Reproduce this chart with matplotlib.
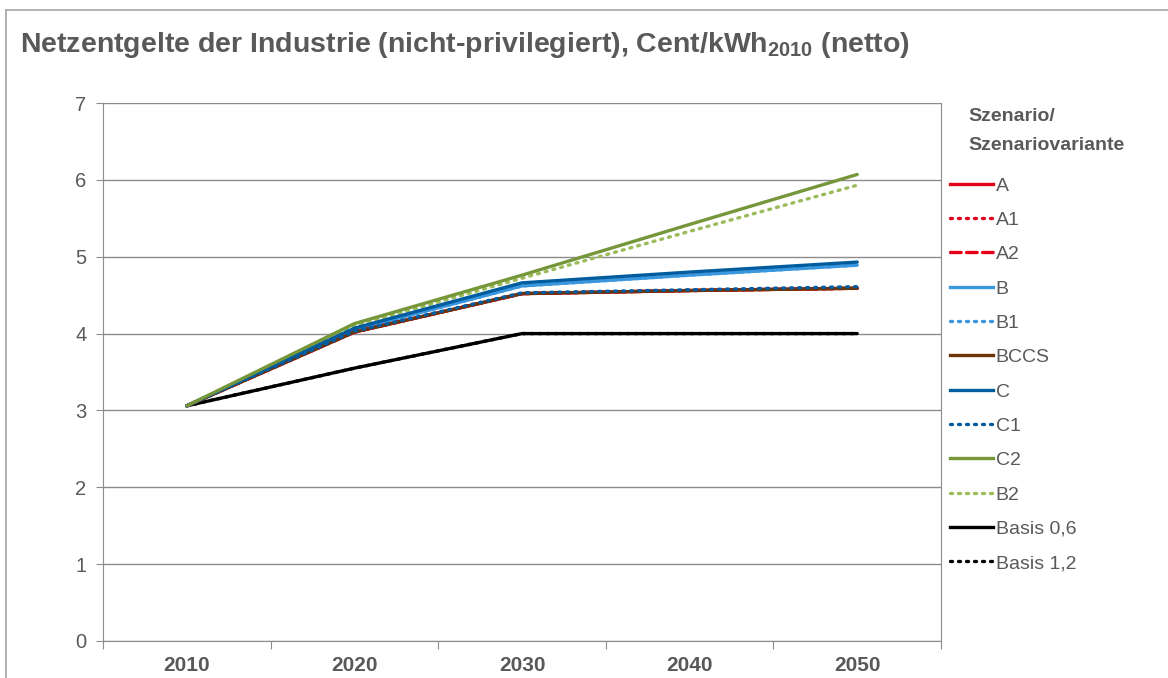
import matplotlib.pyplot as plt
from matplotlib.lines import Line2D

plt.rcParams['font.family'] = ['Liberation Sans', 'DejaVu Sans']
plt.rcParams['mathtext.fontset'] = 'custom'
plt.rcParams['mathtext.rm'] = 'Liberation Sans'
plt.rcParams['mathtext.bf'] = 'Liberation Sans:bold'

# data
years = ['2010', '2020', '2030', '2040', '2050']
series_names = ['A', 'A1', 'A2', 'B', 'B1', 'BCCS', 'C', 'C1', 'C2', 'B2', 'Basis 0,6', 'Basis 1,2']
val_A = [3.06, 4.02, 4.52, 4.56, 4.59]
val_A1 = [3.06, 4.02, 4.52, 4.56, 4.59]
val_A2 = [3.06, 4.02, 4.52, 4.56, 4.59]
val_B = [3.06, 4.05, 4.62, 4.76, 4.89]
val_B1 = [3.06, 4.05, 4.62, 4.76, 4.89]
val_BCCS = [3.06, 4.02, 4.52, 4.56, 4.59]
val_C = [3.06, 4.07, 4.66, 4.80, 4.93]
val_C1 = [3.06, 4.03, 4.53, 4.57, 4.61]
val_C2 = [3.06, 4.13, 4.76, 5.42, 6.07]
val_B2 = [3.06, 4.10, 4.72, 5.33, 5.93]
val_basis06 = [3.06, 3.55, 4.00, 4.00, 4.00]
val_basis12 = [3.06, 3.55, 4.00, 4.00, 4.00]

values = [val_A, val_A1, val_A2, val_B, val_B1, val_BCCS, val_C, val_C1, val_C2, val_B2,
          val_basis06, val_basis12]

red = '#E2001A'
lblue = '#3A96DD'
dblue = '#005C9E'
brown = '#6B3306'
green = '#76963A'
lgreen = '#9BBB59'
dot = (0, (0.6, 1.8))
dash = (0, (3.2, 1.6))
styles = [
    (red, '-'), (red, dot), (red, dash),
    (lblue, '-'), (lblue, dot), (brown, '-'),
    (dblue, '-'), (dblue, dot), (green, '-'),
    (lgreen, dot), ('black', '-'), ('black', dot),
]

grey = '#595959'
axcol = '#8C8C8C'

fig = plt.figure(figsize=(11.68, 6.78), dpi=100)
ax = fig.add_axes([103 / 1168, 1 - 641 / 678, (941 - 103) / 1168, (641 - 103) / 678])

x = list(range(len(years)))
# draw order: background lines first, C2 on top like the original
order = [10, 11, 9, 3, 4, 0, 1, 2, 5, 7, 6, 8]
for i in order:
    c, ls = styles[i]
    ax.plot(x, values[i], color=c, linestyle=ls, lw=2.4,
            solid_capstyle='round', dash_capstyle='round')

ax.set_xlim(-0.5, len(years) - 0.5)
ax.set_ylim(0, 7)
ax.set_yticks(range(8))
ax.yaxis.grid(True, color=axcol, lw=1)
ax.set_axisbelow(True)
ax.set_xticks([i - 0.5 for i in range(len(years) + 1)], minor=False)
ax.set_xticklabels([])
ax.set_xticks(x, minor=True)
ax.set_xticklabels(years, minor=True, fontsize=15, fontweight='bold', color=grey)
ax.tick_params(axis='x', which='major', length=6, color=axcol, direction='out')
ax.tick_params(axis='x', which='minor', length=0, pad=11)
ax.tick_params(axis='y', length=5, color=axcol, labelsize=14.5, labelcolor=grey, pad=7)
for s in ['left', 'bottom', 'right']:
    ax.spines[s].set_color(axcol)
ax.spines['top'].set_visible(False)

fig.text(20 / 1168, 1 - 45 / 678,
         r'Netzentgelte der Industrie (nicht-privilegiert), Cent/kWh$\mathbf{_{2010}}$ (netto)',
         fontsize=20.5, fontweight='bold', color=grey, va='center')

# legend
fig.text(968 / 1168, 1 - 131 / 678, 'Szenario/\nSzenariovariante', fontsize=14,
         fontweight='bold', color=grey, va='center', linespacing=1.95)
handles = [Line2D([], [], color=c, linestyle=ls, lw=2.4, dash_capstyle='round')
           for c, ls in styles]
leg = fig.legend(handles, series_names, loc='upper left',
                 bbox_to_anchor=(950 / 1168, 1 - 177 / 678), frameon=False,
                 fontsize=14, labelcolor=grey, handlelength=2.2, handletextpad=0.15,
                 labelspacing=0.86, borderaxespad=0, borderpad=0)

# outer frame (top and left only visible in the crop)
fig.add_artist(Line2D([6 / 1168, 1], [1 - 10 / 678] * 2, color='#A6A6A6', lw=1.2))
fig.add_artist(Line2D([6 / 1168] * 2, [0, 1 - 10 / 678], color='#A6A6A6', lw=1.2))

fig.savefig('out.png', dpi=100)
